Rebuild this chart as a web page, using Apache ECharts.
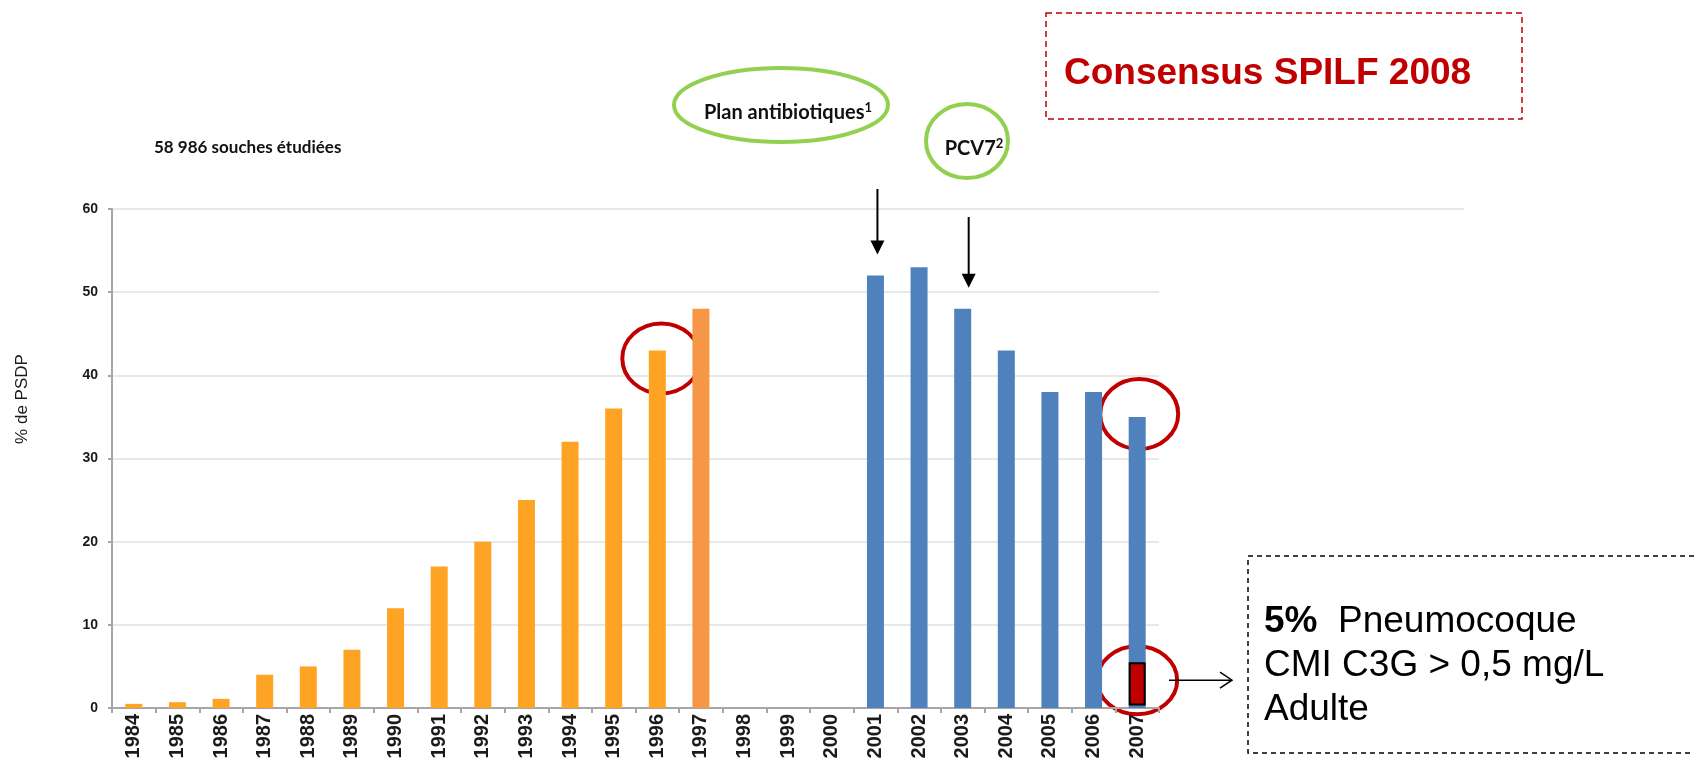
<!DOCTYPE html>
<html>
<head>
<meta charset="utf-8">
<script src="https://cdn.jsdelivr.net/npm/echarts@6/dist/echarts.min.js"></script>
<style>
  html, body { margin: 0; padding: 0; background: #fff; }
  #chart { width: 1694px; height: 760px; }
</style>
</head>
<body>
<div id="chart"></div>
<script>
// années (catégories)
const years = ['1984','1985','1986','1987','1988','1989','1990','1991','1992','1993','1994','1995',
               '1996','1997','1998','1999','2000','2001','2002','2003','2004','2005','2006','2007'];
// % de PSDP par année (pas de données 1998-2000)
const psdp = [0.5, 0.7, 1.1, 4, 5, 7, 12, 17, 20, 25, 32, 36,
              43, 48, null, null, null, 52, 53, 48, 43, 38, 38, 35];
// pneumocoque CMI C3G > 0,5 mg/L chez l'adulte (2007)
const c3gBase = [null, null, null, null, null, null, null, null, null, null, null, null,
                 null, null, null, null, null, null, null, null, null, null, null, 0.3];
const c3gAdult = [null, null, null, null, null, null, null, null, null, null, null, null,
                  null, null, null, null, null, null, null, null, null, null, null, 5.2];
const yTicks = [0, 10, 20, 30, 40, 50, 60];

const ORANGE = '#FFA324', ORANGE2 = '#F79646', BLUE = '#4F81BD', RED = '#C00000', GREEN = '#92D050';

function barColor(year) {
    const y = +year;
    if (y <= 1996) return ORANGE;
    if (y === 1997) return ORANGE2;
    return BLUE;
}

const chart = echarts.init(document.getElementById('chart'));
const gridLeft = 112, gridRight = 535, gridTop = 209, gridBottom = 52;

chart.setOption({
    animation: false,
    backgroundColor: '#fff',
    grid: { left: gridLeft, right: gridRight, top: gridTop, bottom: gridBottom, outerBoundsMode: 'none' },
    xAxis: {
        type: 'category',
        data: years,
        axisLine: { lineStyle: { color: '#A6A6A6', width: 2 } },
        axisTick: { show: true, length: 5, lineStyle: { color: '#A6A6A6', width: 2 } },
        axisLabel: {
            rotate: 90, margin: 6, interval: 0,
            fontFamily: 'Liberation Sans, Arial', fontWeight: 'bold', fontSize: 20, color: '#1a1a1a'
        }
    },
    yAxis: {
        type: 'value',
        min: yTicks[0], max: yTicks[yTicks.length - 1], interval: 10,
        axisLine: { show: true, lineStyle: { color: '#A6A6A6', width: 2 } },
        axisTick: { show: true, length: 4, lineStyle: { color: '#A6A6A6', width: 2 } },
        splitLine: { lineStyle: { color: '#E8E8E8', width: 2 } },
        axisLabel: {
            margin: 14,
            fontFamily: 'Liberation Sans, Arial', fontWeight: 'bold', fontSize: 14, color: '#1a1a1a'
        }
    },
    series: [
        {
            type: 'bar',
            data: psdp,
            barWidth: 17,
            itemStyle: { color: p => barColor(p.name) }
        },
        {
            type: 'bar',
            stack: 'c3g',
            data: c3gBase,
            barWidth: 17,
            barGap: '-100%',
            itemStyle: { color: 'transparent' }
        },
        {
            type: 'bar',
            stack: 'c3g',
            data: c3gAdult,
            barWidth: 17,
            barGap: '-100%',
            itemStyle: { color: RED, borderColor: '#000', borderWidth: 2 }
        }
    ]
});

// annotations placées à partir des axes
const px = (year, v) => chart.convertToPixel({ xAxisIndex: 0, yAxisIndex: 0 }, [year, v]);
const p1996 = px('1996', 43), p2007top = px('2007', 35), p2007low = px('2007', 3.1);
const p2001 = px('2001', 52), p2003 = px('2003', 48);
const y60 = px('2007', 60)[1];
const gridEndX = 1694 - gridRight;

function downArrow(x, y0, yTip) {
    return [
        { type: 'line', shape: { x1: x, y1: y0, x2: x, y2: yTip - 12 }, style: { stroke: '#000', lineWidth: 2 } },
        { type: 'polygon', shape: { points: [[x - 7, yTip - 14], [x + 7, yTip - 14], [x, yTip]] }, style: { fill: '#000' } }
    ];
}

const supRich = {
    t: { fontFamily: 'Lato', fontWeight: 'bold', fontSize: 20, lineHeight: 24, fill: '#111', verticalAlign: 'middle' },
    s: { fontFamily: 'Lato', fontWeight: 'bold', fontSize: 13, lineHeight: 18, fill: '#111', verticalAlign: 'top' }
};

const graphics = [
    // prolongement de la ligne 60
    { type: 'line', shape: { x1: gridEndX, y1: y60, x2: 1464, y2: y60 }, style: { stroke: '#E8E8E8', lineWidth: 2 } },
    // titre
    { type: 'text', left: 154, top: 139,
      style: { text: '58 986 souches étudiées', font: 'bold 17px Lato, sans-serif', fill: '#111' } },
    // nom de l'axe Y
    { type: 'text', x: 22, y: 399, rotation: Math.PI / 2,
      style: { text: '% de PSDP', font: '17px "Liberation Sans", Arial', fill: '#1a1a1a', align: 'center', verticalAlign: 'middle' } },
    // Plan antibiotiques
    { type: 'ellipse', shape: { cx: 781, cy: 105, rx: 107, ry: 37 }, style: { fill: 'none', stroke: GREEN, lineWidth: 4 } },
    { type: 'text', x: 788, y: 113,
      style: { text: '{t|Plan antibiotiques}{s|1}', rich: supRich, align: 'center', verticalAlign: 'middle' } },
    // PCV7
    { type: 'ellipse', shape: { cx: 967, cy: 141, rx: 41, ry: 37 }, style: { fill: 'none', stroke: GREEN, lineWidth: 4 } },
    { type: 'text', x: 974, y: 149,
      style: { text: '{t|PCV7}{s|2}', rich: supRich, align: 'center', verticalAlign: 'middle' } },
    ...downArrow(p2001[0] + 2, 189, p2001[1] - 21),
    ...downArrow(p2003[0] + 6, 217, p2003[1] - 21),
    // cercles rouges
    { type: 'ellipse', shape: { cx: p1996[0] + 4, cy: p1996[1] + 8, rx: 39, ry: 35 }, style: { fill: 'none', stroke: RED, lineWidth: 4 } },
    { type: 'ellipse', shape: { cx: p2007top[0] + 2, cy: p2007top[1] - 3, rx: 39, ry: 35 }, style: { fill: 'none', stroke: RED, lineWidth: 4 } },
    { type: 'ellipse', shape: { cx: p2007low[0], cy: p2007low[1] - 2, rx: 40, ry: 34 }, style: { fill: 'none', stroke: RED, lineWidth: 4 } },
    // flèche vers l'encadré
    { type: 'line', shape: { x1: 1169, y1: p2007low[1] - 2, x2: 1232, y2: p2007low[1] - 2 }, style: { stroke: '#000', lineWidth: 1.5 } },
    { type: 'polyline', shape: { points: [[1220, p2007low[1] - 10], [1232, p2007low[1] - 2], [1220, p2007low[1] + 6]] },
      style: { stroke: '#000', lineWidth: 1.5, fill: 'none' } },
    // Consensus SPILF 2008
    { type: 'rect', shape: { x: 1046, y: 13, width: 476, height: 106 },
      style: { fill: 'none', stroke: RED, lineWidth: 1.5, lineDash: [6, 4] } },
    { type: 'text', x: 1064, y: 74,
      style: { text: 'Consensus SPILF 2008', font: 'bold 37px "Liberation Sans", Arial', fill: RED, verticalAlign: 'middle' } },
    // encadré 5%
    { type: 'rect', shape: { x: 1248, y: 556, width: 460, height: 197 },
      style: { fill: 'none', stroke: '#000', lineWidth: 1.5, lineDash: [5, 4] } },
    { type: 'text', x: 1264, y: 666,
      style: {
          text: '{b|5%}  Pneumocoque\nCMI C3G > 0,5 mg/L\nAdulte',
          font: '37px "Liberation Sans", Arial', fill: '#000', lineHeight: 44, verticalAlign: 'middle',
          rich: { b: { fontWeight: 'bold', fontSize: 37, fontFamily: 'Liberation Sans', lineHeight: 44 } }
      } }
];

chart.setOption({ graphic: graphics });
</script>
</body>
</html>
